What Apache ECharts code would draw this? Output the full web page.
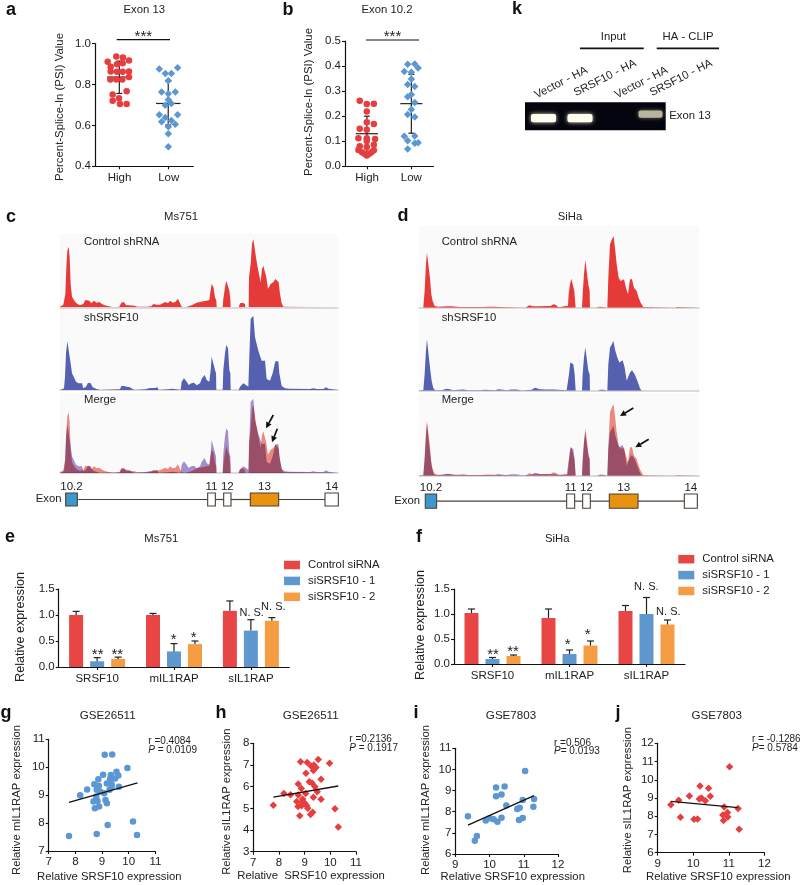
<!DOCTYPE html>
<html><head><meta charset="utf-8">
<style>html,body{margin:0;padding:0;background:#fff}#c{width:800px;height:885px}</style>
<script src="https://cdn.jsdelivr.net/npm/echarts@6/dist/echarts.min.js"></script>
</head><body><div id="c"></div>
<script>
// ---------- Data ----------
const groupTicks = ['High', 'Low'];
const aHigh = [[.434,.937],[.569,.932],[.258,.911],[.447,.899],[.563,.904],[.692,.917],[.319,.886],[.319,.863],[.447,.862],[.563,.862],[.692,.863],[.312,.824],[.434,.824],[.556,.824],[.692,.836],[.359,.751],[.644,.767],[.488,.732],[.359,.720],[.508,.704],[.644,.704]];
const aLow = [[1.308,.876],[1.681,.881],[1.431,.854],[1.553,.854],[1.492,.818],[1.356,.763],[1.634,.763],[1.492,.754],[1.492,.725],[1.553,.707],[1.431,.698],[1.308,.652],[1.431,.639],[1.681,.652],[1.356,.618],[1.553,.624],[1.492,.593],[1.634,.605],[1.492,.559],[1.492,.496]];
const aStats = [[.495,.836,.756,.914],[1.49,.707,.602,.816]]; // centre, mean, low, high
const bHigh = [[.333,.262],[.492,.249],[.652,.25],[.492,.219],[.492,.176],[.652,.169],[.333,.150],[.492,.146],[.303,.112],[.68,.109],[.492,.112],[.492,.101],[.652,.086],[.333,.08],[.492,.077],[.303,.065],[.652,.064],[.386,.056],[.598,.056],[.44,.05],[.545,.05],[.492,.043]];
const bLow = [[1.417,.407],[1.576,.408],[1.652,.392],[1.341,.378],[1.5,.375],[1.5,.348],[1.417,.326],[1.576,.318],[1.5,.287],[1.417,.278],[1.576,.255],[1.5,.227],[1.417,.207],[1.576,.197],[1.341,.12],[1.576,.121],[1.417,.102],[1.576,.092],[1.652,.094],[1.417,.069]];
const bStats = [[.495,.130,.058,.2],[1.5,.25,.132,.367]];

const cRed = [[180,2],[190,8],[196,40],[199,120],[202,170],[206,182],[209,150],[212,70],[216,32],[224,18],[232,10],[240,6],[250,10],[256,22],[268,20],[274,12],[282,20],[290,14],[298,16],[306,10],[314,6],[320,3],[340,0],[358,2],[364,14],[372,16],[378,6],[386,6],[392,8],[404,5],[412,2],[440,2],[454,3],[460,10],[470,8],[480,8],[486,14],[496,16],[504,12],[510,20],[518,14],[526,16],[534,26],[540,12],[545,2],[556,0],[560,3],[575,6],[590,14],[600,16],[610,18],[620,20],[628,22],[631,45],[635,70],[640,62],[645,30],[649,20],[650,0],[668,0],[670,25],[675,60],[679,80],[684,80],[688,50],[691,25],[692,0],[716,0],[720,12],[728,14],[735,10],[736,0],[746,0],[747,90],[752,130],[756,190],[760,205],[764,205],[768,150],[772,125],[778,95],[782,75],[786,115],[790,125],[795,125],[799,90],[804,55],[808,60],[812,70],[820,75],[826,85],[832,85],[836,75],[840,40],[845,12],[850,2],[855,0],[1014,0]];
const cBlue = [[182,0],[192,5],[195,40],[198,110],[202,146],[208,145],[212,80],[216,50],[222,45],[228,25],[236,20],[246,20],[250,5],[258,10],[264,22],[272,20],[278,8],[290,3],[300,0],[360,2],[364,12],[372,12],[380,10],[390,8],[398,2],[405,0],[436,2],[450,6],[464,6],[472,8],[476,0],[504,2],[510,4],[518,4],[520,0],[542,0],[545,25],[552,35],[560,25],[566,15],[574,20],[582,22],[590,14],[600,20],[606,35],[614,45],[620,30],[628,25],[632,60],[635,100],[640,95],[645,60],[648,50],[649,0],[668,0],[670,60],[675,110],[679,135],[684,125],[688,60],[691,50],[692,0],[716,0],[720,10],[730,20],[738,15],[745,10],[748,100],[752,213],[760,223],[765,158],[775,118],[785,88],[795,88],[800,33],[810,28],[818,50],[826,86],[835,86],[838,50],[845,12],[855,5],[868,4],[870,0],[930,3],[940,5],[950,3],[970,3],[978,8],[985,4],[990,0],[1014,0]];
const dRed = [[70,0],[74,50],[78,130],[81,165],[86,165],[90,90],[94,40],[98,20],[104,5],[108,0],[114,3],[145,4],[155,4],[170,3],[180,2],[200,2],[236,2],[240,5],[250,2],[265,3],[270,5],[280,3],[300,2],[302,0],[376,0],[380,6],[388,7],[400,4],[420,4],[440,5],[452,5],[460,10],[468,8],[474,2],[484,2],[490,4],[504,5],[506,40],[510,70],[514,87],[519,85],[523,50],[526,45],[527,0],[546,0],[548,40],[552,100],[556,143],[561,143],[565,70],[569,50],[570,0],[588,0],[592,3],[600,3],[602,0],[622,0],[625,90],[630,190],[636,205],[641,214],[646,170],[650,130],[656,90],[662,80],[666,85],[672,85],[678,60],[684,40],[690,85],[696,85],[702,60],[710,50],[716,30],[722,15],[730,2],[733,0],[824,0],[828,3],[832,2],[834,0],[897,0]];
const dBlue = [[58,2],[70,2],[74,50],[78,120],[81,155],[85,155],[90,70],[95,30],[100,8],[106,2],[125,2],[140,6],[150,5],[160,2],[175,3],[190,4],[205,2],[240,2],[255,3],[260,1],[285,2],[295,5],[310,3],[320,2],[335,4],[350,4],[365,1],[395,3],[405,9],[420,5],[440,4],[460,4],[500,2],[505,2],[507,50],[511,85],[515,90],[520,80],[524,50],[526,45],[527,0],[546,0],[548,50],[552,100],[556,130],[561,125],[565,60],[569,50],[570,0],[594,0],[600,3],[612,3],[614,0],[622,0],[625,80],[630,130],[636,140],[640,150],[646,120],[652,100],[658,85],[668,92],[674,70],[680,30],[684,25],[690,55],[696,62],[704,50],[712,30],[720,8],[725,0],[897,0]];
const exonLabels = ['10.2','11','12','13','14'];
const cExons = [[197,232],[623,646],[671,693],[751,836],[975,1015]];
const dExons = [[76,110],[500,524],[548,571],[628,714],[853,892]];

const barCats = ['SRSF10','mIL1RAP','sIL1RAP'];
const barNames = ['Control siRNA','siSRSF10 - 1','siSRSF10 - 2'];
const eValues = [[1.0,1.0,1.08],[.11,.30,.70],[.155,.44,.89]];
const eErrTop = [[1.07,1.03,1.27],[.18,.45,.91],[.19,.50,.95]];
const fValues = [[1.02,.92,1.06],[.10,.20,1.0],[.16,.37,.79]];
const fErrTop = [[1.10,1.10,1.17],[.13,.28,1.33],[.18,.46,.88]];

const gPoints = [[7.76,7.54],[8.8,7.61],[9.21,7.93],[10.16,8.06],[10.31,7.57],[9.1,10.45],[9.38,10.46],[9.95,9.97],[8.18,9.0],[8.44,9.2],[8.71,9.39],[8.88,9.34],[8.86,9.57],[9.04,9.73],[9.33,9.72],[9.54,9.84],[9.61,9.7],[9.49,9.6],[9.3,9.58],[9.18,9.42],[9.36,9.39],[9.63,9.3],[9.28,9.19],[8.93,9.13],[9.08,9.07],[8.78,8.95],[8.68,8.77],[8.83,8.79],[9.13,8.83],[9.18,8.71],[8.89,8.59],[8.73,8.53],[9.36,9.3],[8.8,9.19]];
const gLine = [[7.76,8.74],[10.33,9.44]];
const hPoints = [[7.78,5.14],[8.19,5.69],[8.45,5.63],[8.84,7.15],[9.1,7.12],[9.53,7.25],[9.97,7.08],[9.25,6.95],[9.36,7],[9.44,6.88],[9.34,6.75],[9.05,6.62],[9.64,6.34],[8.75,6.12],[9.18,6.23],[9.29,6.17],[9.4,6],[8.87,5.91],[9.49,5.77],[9.04,5.69],[8.75,5.62],[8.92,5.43],[9.34,5.51],[9.64,5.42],[8.69,5.31],[8.88,5.28],[9.01,5.23],[8.74,5.08],[8.88,5.12],[9.08,5.12],[9.12,5],[8.81,4.66],[9.31,4.82],[9.23,4.72],[10.18,4.98],[10.31,4.14]];
const hLine = [[7.78,5.52],[10.31,6.03]];
const iPoints = [[9.37,7.78],[9.57,6.63],[9.63,6.85],[9.89,7.58],[10.01,7.69],[10.12,7.64],[10.23,7.53],[10.35,7.72],[10.19,9.15],[10.19,8.73],[10.35,8.82],[10.44,9.19],[10.49,8.3],[11.04,9.93],[10.81,8.13],[10.88,8.19],[10.86,7.61],[10.97,7.7],[10.97,8.56],[11.3,8.6],[11.28,8.24]];
const iLine = [[9.37,7.37],[11.3,8.76]];
const jPoints = [[9.37,8.63],[9.59,8.87],[9.64,7.94],[9.89,9.11],[10.02,7.83],[10.12,7.85],[10.19,9.66],[10.17,8.94],[10.23,9],[10.34,8.85],[10.43,9.53],[10.48,9.09],[11.02,10.72],[10.87,8.51],[10.83,8.07],[10.96,8.21],[10.97,7.96],[10.85,7.76],[11.26,8.43],[11.29,7.28]];
const jLine = [[9.37,8.82],[11.26,8.47]];

// ---------- Style ----------
const FF = '"Liberation Sans", Arial, sans-serif';
const INK = '#222';
const RED = '#e63e3e', BLUE = '#5b97d2', ORANGE = '#f59d42';
const barColors = ['#e84545', '#5f97cf', '#f59d42'];
const grid = [], xAxis = [], yAxis = [], series = [], graphic = [];

function addGrid(l, t, w, h, xa, ya, extra) {
  const i = grid.length;
  grid.push(Object.assign({ left: l, top: t, width: w, height: h, containLabel: false, show: false, borderWidth: 0 }, extra || {}));
  xAxis.push(Object.assign({ gridIndex: i }, xa));
  yAxis.push(Object.assign({ gridIndex: i }, ya));
  return i;
}
function valAxis(min, max, interval, digits, extra) {
  return Object.assign({
    type: 'value', min, max, interval,
    axisLine: { show: true, onZero: false, lineStyle: { color: '#111', width: 1.2 } },
    axisTick: { show: true, length: 3, lineStyle: { color: '#111', width: 1.1 } },
    splitLine: { show: false },
    axisLabel: { fontFamily: FF, fontSize: 11.5, color: INK, margin: 4, formatter: v => v.toFixed(digits) }
  }, extra || {});
}
function groupAxis() {
  return {
    type: 'value', min: 0, max: 2, interval: 1,
    axisLine: { show: true, onZero: false, lineStyle: { color: '#111', width: 1.2 } },
    axisTick: { show: true, length: 3, customValues: [.5, 1.5], lineStyle: { color: '#111', width: 1.1 } },
    splitLine: { show: false },
    axisLabel: { fontFamily: FF, fontSize: 11.5, color: INK, margin: 6, customValues: [.5, 1.5], formatter: v => groupTicks[v < 1 ? 0 : 1] }
  };
}
function hiddenAxis(min, max, lineColor) {
  return {
    type: 'value', min, max,
    axisLine: lineColor ? { show: true, onZero: false, lineStyle: { color: lineColor, width: 1.5 } } : { show: false },
    axisTick: { show: false }, axisLabel: { show: false }, splitLine: { show: false }
  };
}
function dots(g, data, color, symbol, size) {
  series.push({ type: 'scatter', xAxisIndex: g, yAxisIndex: g, data, symbol, symbolSize: size, itemStyle: { color, opacity: 1 }, clip: false, silent: true });
}
function stats(g, data) {
  series.push({
    type: 'custom', xAxisIndex: g, yAxisIndex: g, data, clip: false, silent: true,
    encode: { x: 0, y: 1 },
    renderItem(p, api) {
      const c = api.value(0), m = api.value(1), lo = api.value(2), hi = api.value(3);
      const pl = api.coord([c, lo]), ph = api.coord([c, hi]);
      const a = api.coord([c - .25, m]), b = api.coord([c + .25, m]);
      const st = { stroke: '#222', lineWidth: 1.2, fill: null };
      const ln = (x1, y1, x2, y2) => ({ type: 'line', shape: { x1, y1, x2, y2 }, style: st });
      return { type: 'group', children: [
        ln(pl[0], pl[1], ph[0], ph[1]), ln(a[0], a[1], b[0], b[1]),
        ln(pl[0] - 3, pl[1], pl[0] + 3, pl[1]), ln(ph[0] - 3, ph[1], ph[0] + 3, ph[1])
      ] };
    }
  });
}
function area(g, data, color, blend, name) {
  series.push({
    type: 'line', name, xAxisIndex: g, yAxisIndex: g, data, showSymbol: false, symbol: 'none', silent: true,
    lineStyle: { width: 0 }, areaStyle: { color, opacity: 1 }, blendMode: blend || 'source-over'
  });
}
function exons(g, data) {
  series.push({
    type: 'custom', xAxisIndex: g, yAxisIndex: g, clip: false, silent: true,
    data: data.map((e, i) => [e[0], e[1], i]), encode: { x: [0, 1] },
    renderItem(p, api) {
      const i = api.value(2);
      const a = api.coord([api.value(0), 1]), b = api.coord([api.value(1), 0]);
      const fill = i === 0 ? '#3b97cc' : i === 3 ? '#e8920f' : '#fff';
      const children = [];
      if (i < data.length - 1) {
        const n = api.coord([data[i + 1][0], 0.5]);
        children.push({ type: 'line', shape: { x1: b[0], y1: n[1], x2: n[0], y2: n[1] }, style: { stroke: '#4a4038', lineWidth: 1.2 } });
      }
      children.push({ type: 'rect', shape: { x: a[0], y: a[1], width: b[0] - a[0], height: b[1] - a[1] }, style: { fill, stroke: '#4a4038', lineWidth: 1.1 } });
      children.push({ type: 'text', style: { text: exonLabels[i], x: (a[0] + b[0]) / 2, y: a[1] - 6.5, textAlign: 'center', textVerticalAlign: 'middle', fontFamily: FF, fontSize: 11.5, fill: INK } });
      return { type: 'group', children };
    }
  });
}
function barPanel(l, t, w, h, vals, tops) {
  const g = addGrid(l, t, w, h, {
    type: 'category', data: barCats,
    axisLine: { show: true, onZero: false, lineStyle: { color: '#111', width: 1.2 } },
    axisTick: { show: true, length: 3, alignWithLabel: true, lineStyle: { color: '#111', width: 1.1 } },
    axisLabel: { fontFamily: FF, fontSize: 11.5, color: INK, margin: 6, interval: 0 }
  }, valAxis(0, 1.5, .5, 1, { axisLine: { show: true, onZero: false, lineStyle: { color: '#111', width: 1.2 } } }));
  vals.forEach((v, s) => {
    series.push({ type: 'bar', name: barNames[s], xAxisIndex: g, yAxisIndex: g, data: v, barWidth: 14, barGap: '50%', itemStyle: { color: barColors[s] }, silent: true });
  });
  vals.forEach((v, s) => {
    series.push({
      type: 'custom', xAxisIndex: g, yAxisIndex: g, clip: false, silent: true, z: 3,
      data: v.map((y, i) => [i, y, tops[s][i]]), encode: { x: 0, y: 1 },
      renderItem(p, api) {
        const dx = (s - 1) * 21;
        const a = api.coord([api.value(0), api.value(1)]), b = api.coord([api.value(0), api.value(2)]);
        const st = { stroke: '#222', lineWidth: 1.2 };
        return { type: 'group', children: [
          { type: 'line', shape: { x1: a[0] + dx, y1: a[1], x2: a[0] + dx, y2: b[1] }, style: st },
          { type: 'line', shape: { x1: a[0] + dx - 3.5, y1: b[1], x2: a[0] + dx + 3.5, y2: b[1] }, style: st }
        ] };
      }
    });
  });
}
function scatterPanel(l, t, w, h, xr, yr, pts, line, color, symbol, size) {
  const g = addGrid(l, t, w, h, valAxis(xr[0], xr[1], 1, 0, { axisLabel: { fontFamily: FF, fontSize: 11.5, color: INK, margin: 5 } }),
                    valAxis(yr[0], yr[1], 1, 0, { axisLabel: { fontFamily: FF, fontSize: 11.5, color: INK, margin: 4 } }));
  dots(g, pts, color, symbol, size);
  series.push({ type: 'line', xAxisIndex: g, yAxisIndex: g, data: line, showSymbol: false, symbol: 'none', lineStyle: { color: '#111', width: 1.3 }, silent: true, z: 3 });
}

// text helpers
function T(text, x, y, o) {
  o = o || {};
  graphic.push({
    type: 'text', x, y, rotation: o.rot || 0, silent: true, z: 50,
    style: { text, x: 0, y: 0, textAlign: o.align || 'center', textVerticalAlign: 'middle', fontFamily: FF, fontSize: o.size || 11.3, fontWeight: o.weight || 'normal', fill: o.color || INK, rich: o.rich }
  });
}
function L(x1, y1, x2, y2, w) {
  graphic.push({ type: 'line', silent: true, z: 50, shape: { x1, y1, x2, y2 }, style: { stroke: '#111', lineWidth: w || 1.2 } });
}
function arrow(x1, y1, x2, y2) {
  const ang = Math.atan2(y2 - y1, x2 - x1), ux = Math.cos(ang), uy = Math.sin(ang);
  const bx = x2 - ux * 6, by = y2 - uy * 6;
  L(x1, y1, bx, by, 1.7);
  graphic.push({ type: 'polygon', silent: true, z: 50, shape: { points: [[x2, y2], [bx - uy * 3, by + ux * 3], [bx + uy * 3, by - ux * 3]] }, style: { fill: '#111' } });
}
const italic = { i: { fontStyle: 'italic', fontFamily: FF, fontSize: 10, fill: INK }, n: { fontFamily: FF, fontSize: 10, fill: INK } };
function rp(x, y, r, pv) {
  T(r, x, y, { align: 'left', size: 10 });
  T('{i|P}{n|' + pv + '}', x, y + 8.5, { align: 'left', size: 10, rich: italic });
}

// ---------- Panels a, b ----------
let g = addGrid(95, 43.5, 98.3, 122.8, groupAxis(), valAxis(.4, 1, .2, 1));
dots(g, aHigh, RED, 'circle', 6.5); dots(g, aLow, BLUE, 'diamond', 7.5); stats(g, aStats);
g = addGrid(345, 41, 88.5, 125.3, groupAxis(), valAxis(0, .5, .1, 1));
dots(g, bHigh, RED, 'circle', 6.5); dots(g, bLow, BLUE, 'diamond', 7.5); stats(g, bStats);

// ---------- Panels c, d ----------
const bg = { show: true, backgroundColor: '#fafafa' };
function tracks(l, w, xr, tops, hs, red, blue) {
  const g1 = addGrid(l, tops[0], w, hs[0] / 3, hiddenAxis(xr[0], xr[1], '#cfcfcf'), hiddenAxis(0, hs[0]), bg);
  area(g1, red, '#e53a38');
  const g2 = addGrid(l, tops[1], w, hs[1] / 3, hiddenAxis(xr[0], xr[1], '#cfcfcf'), hiddenAxis(0, hs[1]), bg);
  area(g2, blue, '#5560b0');
  const g3 = addGrid(l, tops[2], w, hs[2] / 3, hiddenAxis(xr[0], xr[1], '#cfcfcf'), hiddenAxis(0, hs[2]), bg);
  area(g3, red, '#f08c80', 'multiply');
  area(g3, blue, '#a891d4', 'multiply');
}
tracks(60, 278, [180, 1014], [234, 309, 393], [220, 243, 240], cRed, cBlue);
tracks(419.3, 279.7, [58, 897], [226, 309.5, 393], [245, 244, 248], dRed, dBlue);
g = addGrid(60, 493, 278, 13, hiddenAxis(180, 1014), hiddenAxis(0, 1));
exons(g, cExons);
g = addGrid(419.3, 494, 279.7, 14.3, hiddenAxis(58, 897), hiddenAxis(0, 1));
exons(g, dExons);

// ---------- Panels e, f ----------
barPanel(58.7, 589, 230.6, 78, eValues, eErrTop);
barPanel(454, 589, 231, 75, fValues, fErrTop);

// ---------- Panels g-j ----------
scatterPanel(48.7, 739.3, 106.7, 111.7, [7, 11], [7, 11], gPoints, gLine, BLUE, 'circle', 6.5);
scatterPanel(253.3, 743.3, 102.7, 108.4, [7, 11], [3, 8], hPoints, hLine, RED, 'diamond', 7.5);
scatterPanel(455.3, 748.3, 102.7, 105.7, [9, 12], [6, 11], iPoints, iLine, BLUE, 'circle', 6.5);
scatterPanel(657.7, 743.3, 106.7, 109.4, [9, 12], [6, 12], jPoints, jLine, RED, 'diamond', 7.5);

// ---------- Text and decorations ----------
[['a',11,10],['b',288,10],['k',517,9],['c',11,217],['d',403,216],['e',10,537],['f',419,537],['g',6,713],['h',221,713],['i',416,713],['j',618,713]]
  .forEach(p => T(p[0], p[1], p[2], { size: 18, weight: 'bold', color: '#111' }));
T('Exon 13', 144.3, 10); T('Exon 10.2', 387, 10);
T('Percent-Splice-In (PSI) Value', 60, 107, { rot: Math.PI / 2, size: 11.4 });
T('Percent-Splice-In (PSI) Value', 309, 102, { rot: Math.PI / 2, size: 11.4 });
L(116.7, 39.7, 170, 39.7); T('***', 143.3, 36.5, { size: 15 });
L(366, 40, 419, 40); T('***', 392.5, 36.5, { size: 15 });

T('Input', 613.3, 36.7); T('HA - CLIP', 688, 36.7);
L(580, 48.3, 643.7, 48.3, 1.7); L(656.7, 48.3, 719, 48.3, 1.7);
const labRot = 27 * Math.PI / 180;
T('Vector - HA', 561, 82.7, { rot: labRot }); T('SRSF10 - HA', 605, 78, { rot: labRot });
T('Vector - HA', 641.3, 82.7, { rot: labRot }); T('SRSF10 - HA', 681, 78, { rot: labRot });
graphic.push({ type: 'rect', silent: true, z: 40, shape: { x: 525, y: 102.3, width: 140.7, height: 28 }, style: { fill: '#05050f' } });
[[531, 114, 25, 8.3, '#fffdf0', '#e8dfc0'], [567.5, 114, 25, 8.3, '#fffdf0', '#e8dfc0'], [638.5, 110.5, 24, 7.3, '#b8b4a0', '#77735f']].forEach(b => {
  graphic.push({ type: 'rect', silent: true, z: 41, shape: { x: b[0], y: b[1], width: b[2], height: b[3], r: 2 }, style: { fill: b[4], shadowBlur: 4, shadowColor: b[5] } });
});
T('Exon 13', 669.3, 115.7, { align: 'left' });

T('Ms751', 181, 216.7); T('SiHa', 570, 216.7);
['c', 'd'].forEach((k, i) => {
  const x = i ? 441.7 : 84;
  T('Control shRNA', x, 241.7, { align: 'left' });
  T('shSRSF10', x, 318, { align: 'left' });
  T('Merge', x, 400, { align: 'left' });
});
T('Exon', 61.5, 499, { align: 'right' }); T('Exon', 420, 501, { align: 'right' });
arrow(273.3, 415, 266, 428.3); arrow(277.3, 428.7, 272, 442.3);
arrow(633.3, 408, 620, 416); arrow(648.7, 439.3, 635.3, 447.3);

T('Ms751', 161.3, 539.3); T('SiHa', 557.3, 539.3);
T('Relative expression', 21, 627, { rot: Math.PI / 2, size: 12.6 });
T('Relative expression', 421, 625, { rot: Math.PI / 2, size: 12.6 });
[['**',97.7,655,15],['**',117.3,655,15],['*',173.7,639.7,15],['*',193.7,638,15],['N. S.',251.7,612.7,11],['N. S.',273.3,607,11],
 ['**',493,654.7,15],['**',513,652,15],['*',567.7,645.3,15],['*',587.7,634.7,15],['N. S.',646.3,587,11],['N. S.',668.3,612,11]]
  .forEach(a => T(a[0], a[1], a[2], { size: a[3] }));

T('GSE26511', 107.7, 715.7, { size: 11.6 }); T('GSE26511', 310.7, 715.7, { size: 11.6 });
T('GSE7803', 511, 715.7, { size: 11.6 }); T('GSE7803', 716.7, 715.7, { size: 11.6 });
T('Relative SRSF10 expression', 109.3, 876.7); T('Relative  SRSF10 expression', 311, 875.5);
T('Relative SRSF10 expression', 512.7, 876.7); T('Relative SRSF10 expression', 718.3, 876.7);
T('Relative mIL1RAP expression', 16.7, 800, { rot: Math.PI / 2 }); T('Relative sIL1RAP expression', 227.3, 801.7, { rot: Math.PI / 2 });
T('Relative mIL1RAP expression', 426, 800, { rot: Math.PI / 2 }); T('Relative sIL1RAP expression', 628.3, 800, { rot: Math.PI / 2 });
rp(148.3, 741.7, 'r =0.4084', ' = 0.0109');
rp(349.3, 739.7, 'r =0.2136', ' = 0.1917');
rp(554, 743, 'r =0.506', '= 0.0193');
rp(752, 739.7, 'r = -0.1286', '= 0.5784');

const legendBase = {
  orient: 'vertical', itemWidth: 16, itemHeight: 8.5, itemGap: 4.9, padding: 0, data: barNames, selectedMode: false, icon: 'rect',
  textStyle: { fontFamily: FF, fontSize: 11.3, color: INK, padding: [0, 0, 0, 3] }
};
const chart = echarts.init(document.getElementById('c'), null, { renderer: 'canvas' });
chart.setOption({
  backgroundColor: '#fff', animation: false,
  legend: [Object.assign({ left: 284, top: 559.5 }, legendBase), Object.assign({ left: 678.3, top: 553.7 }, legendBase)],
  grid, xAxis, yAxis, series, graphic: { elements: graphic }
});
</script></body></html>
